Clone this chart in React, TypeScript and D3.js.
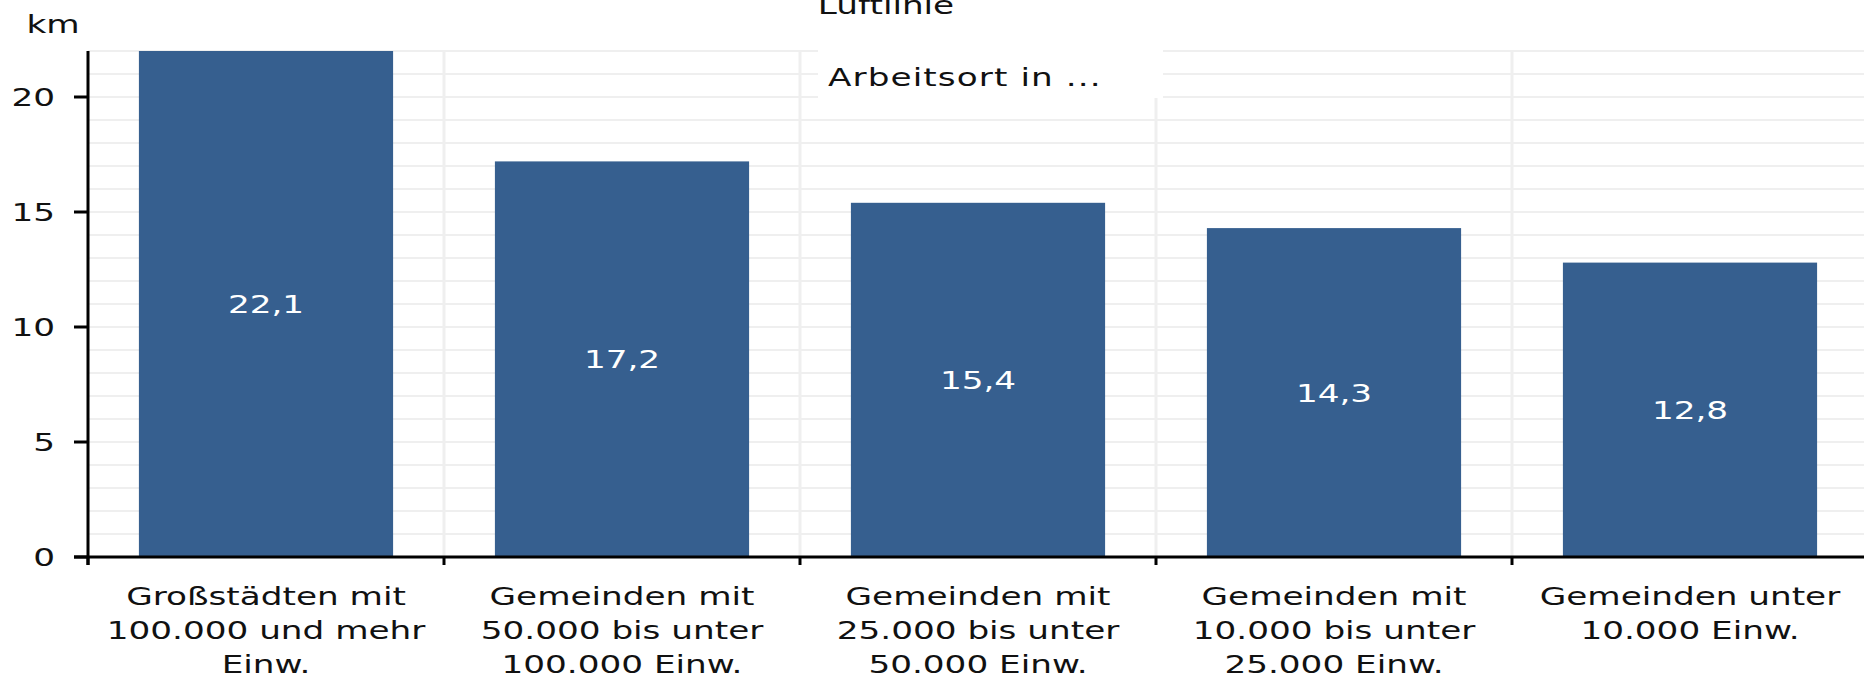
import React from "react";
import * as d3 from "d3";

const categories: string[][] = [
  ["Großstädten mit", "100.000 und mehr", "Einw."],
  ["Gemeinden mit", "50.000 bis unter", "100.000 Einw."],
  ["Gemeinden mit", "25.000 bis unter", "50.000 Einw."],
  ["Gemeinden mit", "10.000 bis unter", "25.000 Einw."],
  ["Gemeinden unter", "10.000 Einw."],
];
const values: number[] = [22.1, 17.2, 15.4, 14.3, 12.8];
const valueLabels: string[] = ["22,1", "17,2", "15,4", "14,3", "12,8"];
const yTicks: number[] = [0, 5, 10, 15, 20];
const yMinorTicks: number[] = d3.range(0, 23, 1);
const title = "Luftlinie";
const legendTitle = "Arbeitsort in ...";
const unit = "km";

const W = 1864;
const H = 674;
const left = 88;
const right = 1868;
const top = 51;
const bottom = 557;
const SX = 1.37;
const FONT = "'DejaVu Sans', Verdana, sans-serif";
const FS = 25;
const BAR = "#365f8f";
const GRID = "#efefef";
const TXT = "#111111";

function T(props: { x: number; y: number; anchor?: string; fill?: string; children: React.ReactNode; ls?: number }) {
  return (
    <text
      transform={`translate(${props.x},${props.y}) scale(${SX},1)`}
      textAnchor={props.anchor || "middle"}
      fill={props.fill || TXT}
      fontFamily={FONT}
      fontSize={FS}
      letterSpacing={props.ls || 0}
    >
      {props.children}
    </text>
  );
}

export default function App() {
  const ids = categories.map((_, i) => String(i));
  const xOuter = d3.scaleBand<string>().domain(ids).range([left, right]).padding(0);
  const xBar = d3
    .scaleBand<string>()
    .domain(ids)
    .range([left, right])
    .paddingInner(0.286)
    .paddingOuter(0.143);
  const y = d3.scaleLinear().domain([0, 22]).range([bottom, top]);
  const boundaries = ids.map((id) => xOuter(id) as number);

  return (
    <svg
      width={W}
      height={H}
      style={{ position: "absolute", left: 0, top: 0, background: "#fff" }}
    >
      <defs>
        <clipPath id="plot">
          <rect x={left} y={top} width={right - left} height={bottom - top} />
        </clipPath>
      </defs>
      {yMinorTicks.map((t) => (
        <line key={"h" + t} x1={left} x2={W} y1={y(t)} y2={y(t)} stroke={GRID} strokeWidth={2} />
      ))}
      {boundaries.slice(1).map((b, i) => (
        <line key={"v" + i} x1={b} x2={b} y1={top} y2={bottom} stroke={GRID} strokeWidth={3} />
      ))}
      <g clipPath="url(#plot)">
        {values.map((v, i) => (
          <rect
            key={i}
            x={xBar(ids[i])}
            y={y(v)}
            width={xBar.bandwidth()}
            height={y(0) - y(v)}
            fill={BAR}
          />
        ))}
      </g>
      {values.map((v, i) => {
        const yTop = Math.max(y(v), top);
        const cy = (yTop + y(0)) / 2;
        return (
          <T key={"l" + i} x={(xBar(ids[i]) as number) + xBar.bandwidth() / 2} y={cy + 9} fill="#ffffff">
            {valueLabels[i]}
          </T>
        );
      })}
      <rect x={818} y={49} width={345} height={49} fill="#ffffff" />
      <T x={828} y={86} anchor="start" ls={0.8}>{legendTitle}</T>
      <T x={886} y={14}>{title}</T>
      <T x={53} y={33}>{unit}</T>
      <line x1={left} x2={left} y1={top} y2={bottom + 8} stroke="#000" strokeWidth={3} />
      <line x1={left - 14} x2={W} y1={bottom} y2={bottom} stroke="#000" strokeWidth={3} />
      {yTicks.map((t) => (
        <g key={"yt" + t}>
          <line x1={left - 14} x2={left} y1={y(t)} y2={y(t)} stroke="#000" strokeWidth={3} />
          <T x={55} y={y(t) + 9} anchor="end">{t}</T>
        </g>
      ))}
      {boundaries.map((b, i) => (
        <line key={"xt" + i} x1={b} x2={b} y1={bottom} y2={bottom + 8} stroke="#000" strokeWidth={3} />
      ))}
      {categories.map((lines, i) => {
        const cx = (xOuter(ids[i]) as number) + xOuter.bandwidth() / 2;
        return lines.map((ln, j) => (
          <T key={"c" + i + "-" + j} x={cx} y={605 + j * 34}>{ln}</T>
        ));
      })}
    </svg>
  );
}
